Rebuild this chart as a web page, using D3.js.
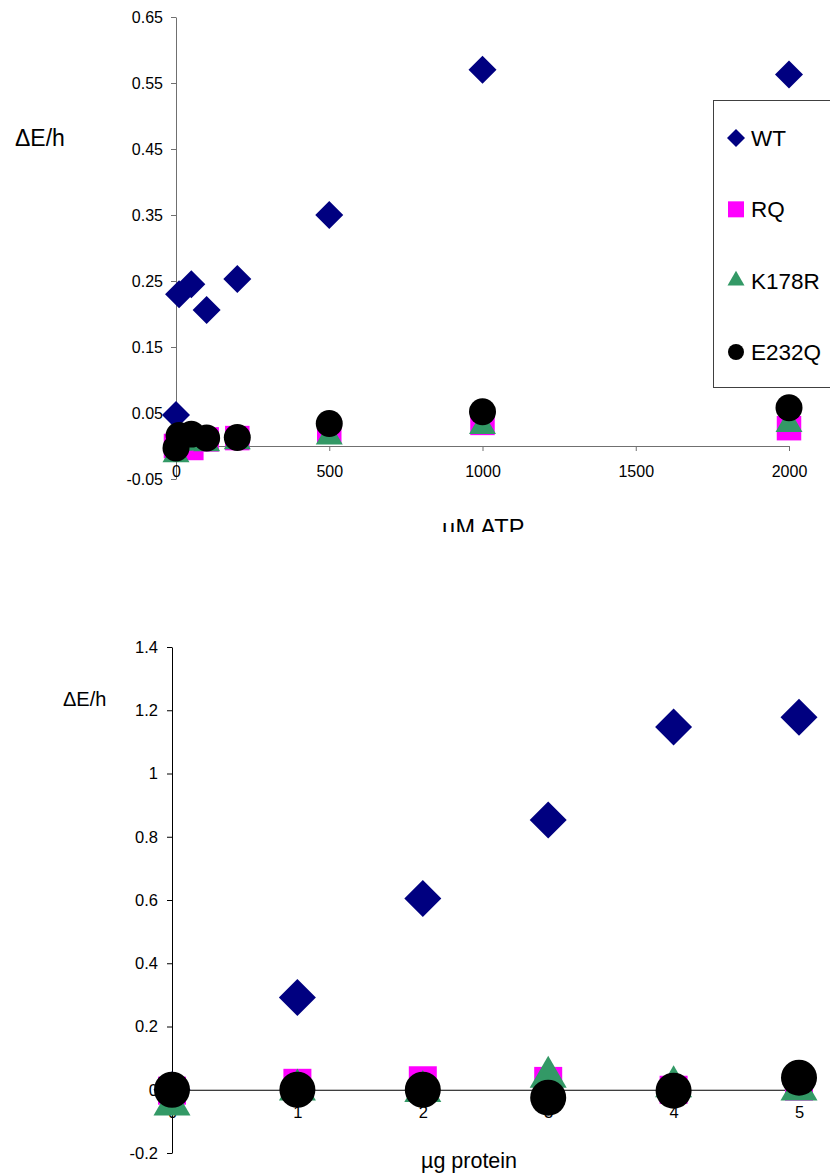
<!DOCTYPE html>
<html>
<head>
<meta charset="utf-8">
<script src="https://cdn.jsdelivr.net/npm/d3@7"></script>
<style>
  body { margin: 0; background: #fff; }
  svg { display: block; font-family: "Liberation Sans", Arial, sans-serif; }
</style>
</head>
<body>
<div id="chart"></div>
<script>
// ---- data: ATP titration (top) ----
const atpConc = [0, 10, 50, 100, 200, 500, 1000, 2000];
const atpWT = [0.047, 0.230, 0.245, 0.206, 0.253, 0.350, 0.570, 0.563];
const atpRQ = [0.000, 0.003, -0.003, 0.010, 0.012, 0.023, 0.035, 0.027];
const atpK178R = [-0.013, 0.005, 0.005, 0.004, 0.007, 0.014, 0.030, 0.033];
const atpE232Q = [-0.003, 0.016, 0.018, 0.012, 0.013, 0.034, 0.052, 0.058];
const atpXTicks = [0, 500, 1000, 1500, 2000];
const atpYTicks = [-0.05, 0.05, 0.15, 0.25, 0.35, 0.45, 0.55, 0.65];

// ---- data: protein titration (bottom) ----
const protein = [0, 1, 2, 3, 4, 5];
const protWT = [0.0, 0.292, 0.605, 0.853, 1.147, 1.178];
const protRQ = [-0.003, 0.022, 0.030, 0.028, 0.0, 0.01];
const protK178R = [-0.048, 0.0, -0.005, 0.04, 0.01, 0.0];
const protE232Q = [0.0, 0.0, 0.0, -0.025, -0.003, 0.038];
const protXTicks = [0, 1, 2, 3, 4, 5];
const protYTicks = [-0.2, 0, 0.2, 0.4, 0.6, 0.8, 1, 1.2, 1.4];

const seriesNames = ["WT", "RQ", "K178R", "E232Q"];
const seriesColors = ["#000080", "#ff00ff", "#339966", "#000000"];

const W = 830, H = 1176;

const svg = d3.select("#chart").append("svg")
    .attr("width", W)
    .attr("height", H);

// marker path generator; diamond = rotated square
function marker(kind, size) {
    if (kind === "WT") return d3.symbol().type(d3.symbolSquare).size(size.d)();
    if (kind === "RQ") return d3.symbol().type(d3.symbolSquare).size(size.s)();
    if (kind === "K178R") return d3.symbol().type(d3.symbolTriangle).size(size.t)();
    return d3.symbol().type(d3.symbolCircle).size(size.c)();
}

function drawPanel(opt) {
    const g = svg.append("g");
    const x = d3.scaleLinear().domain(opt.xDomain).range(opt.xRange);
    const y = d3.scaleLinear().domain(opt.yDomain).range(opt.yRange);

    const yAxis = g.append("g")
        .attr("transform", `translate(${x(0)},0)`)
        .call(d3.axisLeft(y).tickValues(opt.yTicks).tickSize(5).tickSizeOuter(0)
            .tickPadding(opt.yPad).tickFormat(d => String(d)));

    const xAxis = g.append("g")
        .attr("transform", `translate(0,${y(0)})`)
        .call(d3.axisBottom(x).tickValues(opt.xTicks).tickSize(5).tickSizeOuter(0)
            .tickPadding(opt.xPad).tickFormat(d => String(d)));

    [xAxis, yAxis].forEach(a => {
        a.select(".domain").attr("stroke", opt.axisColor);
        a.selectAll(".tick line").attr("stroke", opt.axisColor);
        a.selectAll("text").attr("fill", "#000")
            .style("font-size", opt.tickFont + "px")
            .style("font-family", "'Liberation Sans', Arial, sans-serif");
    });

    opt.series.forEach((vals, i) => {
        const name = seriesNames[i];
        g.append("g").selectAll("path")
            .data(opt.xs.map((xv, j) => [xv, vals[j]]))
            .enter()
            .append("path")
            .attr("d", marker(name, opt.size))
            .attr("transform", d => `translate(${x(d[0])},${y(d[1])})` + (name === "WT" ? " rotate(45)" : ""))
            .attr("fill", seriesColors[i]);
    });
    return g;
}

// ---- top panel ----
drawPanel({
    xDomain: [0, 2000], xRange: [176, 789],
    yDomain: [-0.05, 0.65], yRange: [479, 17],
    xTicks: atpXTicks, yTicks: atpYTicks,
    xs: atpConc,
    series: [atpWT, atpRQ, atpK178R, atpE232Q],
    axisColor: "#707070", tickFont: 16, xPad: 15, yPad: 8,
    size: { d: 392, s: 600, t: 315, c: 572 }
});

svg.append("text")
    .attr("x", 15).attr("y", 146)
    .style("font-size", "23px")
    .text("ΔE/h");

// x title is cut off at the bottom in the original figure
svg.append("clipPath").attr("id", "clipTop")
    .append("rect").attr("x", 0).attr("y", 0).attr("width", W).attr("height", 532);

svg.append("text")
    .attr("clip-path", "url(#clipTop)")
    .attr("x", 442).attr("y", 536)
    .style("font-size", "23.5px")
    .text("µM ATP");

// legend
const legend = svg.append("g");
legend.append("rect")
    .attr("x", 713.5).attr("y", 100.5)
    .attr("width", 140).attr("height", 287)
    .attr("fill", "#fff")
    .attr("stroke", "#404040");

const legendY = d3.scalePoint().domain(seriesNames).range([138, 352]);
const legendSize = { d: 162, s: 256, t: 125, c: 201 };
seriesNames.forEach((name, i) => {
    legend.append("path")
        .attr("d", marker(name, legendSize))
        .attr("transform", `translate(736,${legendY(name)})` + (name === "WT" ? " rotate(45)" : ""))
        .attr("fill", seriesColors[i]);
    legend.append("text")
        .attr("x", 751).attr("y", legendY(name) + 8)
        .style("font-size", "22.5px")
        .text(name);
});

// ---- bottom panel ----
drawPanel({
    xDomain: [0, 5], xRange: [172, 799],
    yDomain: [-0.2, 1.4], yRange: [1153, 647],
    xTicks: protXTicks, yTicks: protYTicks,
    xs: protein,
    series: [protWT, protRQ, protK178R, protE232Q],
    axisColor: "#000", tickFont: 16.5, xPad: 12, yPad: 9,
    size: { d: 684, s: 784, t: 593, c: 1018 }
});

svg.append("text")
    .attr("x", 63).attr("y", 706)
    .style("font-size", "20px")
    .text("ΔE/h");

svg.append("text")
    .attr("x", 421).attr("y", 1168)
    .style("font-size", "21.5px")
    .text("µg protein");
</script>
</body>
</html>
